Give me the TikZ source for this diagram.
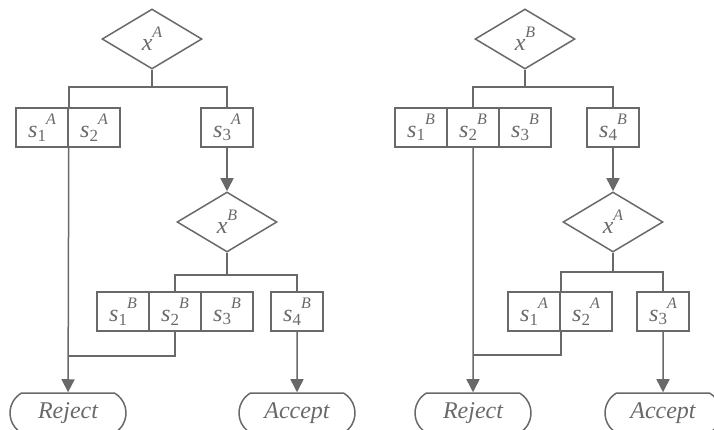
\documentclass[tikz,border=0pt]{standalone}
\usepackage{fontspec}
\setmainfont{Liberation Serif}
\usetikzlibrary{shapes.geometric,shapes.misc,arrows.meta}
\definecolor{ln}{RGB}{105,105,105}
\newcommand{\sv}[2]{\textit{s}\raisebox{-.3ex}{\fontsize{17}{17}\selectfont #1}\raisebox{1.2ex}{\fontsize{16}{16}\selectfont\textit{#2}}}
\newcommand{\xv}[1]{\textit{x}\raisebox{1.2ex}{\fontsize{16}{16}\selectfont\textit{#1}}}
\tikzset{dm/.style = {diamond, draw, minimum width=100pt, minimum height=60pt, inner sep=0pt},
         bx/.style = {rectangle, draw, minimum width=52pt, minimum height=39pt, inner sep=0pt},
         tm/.style = {rounded rectangle, rounded rectangle arc length=120, draw, minimum width=116pt, minimum height=40pt, inner sep=0pt, font=\fontsize{24}{28}\selectfont\itshape}}

\begin{document}
\begin{tikzpicture}[x=1pt, y=-1pt, color=ln, line width=1.5pt, >={Triangle[length=13pt,width=13pt]},
    font=\fontsize{24}{28}\selectfont]
    \useasboundingbox (0,0) rectangle (714,430);
    % left tree
    \node[dm] (xa) at (152,39) {\xv{A}};
    \node[bx] (a1) at (42,127.5) {\sv{1}{A}}; \node[bx] (a2) at (94,127.5) {\sv{2}{A}};
    \node[bx] (a3) at (227,127.5) {\sv{3}{A}};
    \node[dm] (xb) at (227,222) {\xv{B}};
    \node[bx] (b1) at (123,311.5) {\sv{1}{B}}; \node[bx] (b2) at (175,311.5) {\sv{2}{B}};
    \node[bx] (b3) at (227,311.5) {\sv{3}{B}}; \node[bx] (b4) at (297,311.5) {\sv{4}{B}};
    \node[tm] (rl) at (68,413) {Reject};
    \node[tm] (al) at (297,413) {Accept};
    \coordinate (ja) at (152,87); \coordinate (jb) at (227,275); \coordinate (ka) at (68,356);
    \draw (xa) -- (ja);
    \draw (ja) -| (a1.north east);
    \draw (ja) -| (a3);
    \draw[->] (a1.south east) -- (rl);
    \draw[->] (a3) -- (xb);
    \draw (xb) -- (jb);
    \draw (jb) -| (b2);
    \draw (jb) -| (b4);
    \draw (b2) |- (ka);
    \draw[->] (b4) -- (al);
    % right tree
    \node[dm] (yb) at (525,39) {\xv{B}};
    \node[bx] (c1) at (421,127.5) {\sv{1}{B}}; \node[bx] (c2) at (473,127.5) {\sv{2}{B}};
    \node[bx] (c3) at (525,127.5) {\sv{3}{B}}; \node[bx] (c4) at (613,127.5) {\sv{4}{B}};
    \node[dm] (ya) at (613,222) {\xv{A}};
    \node[bx] (d1) at (534,311.5) {\sv{1}{A}}; \node[bx] (d2) at (586,311.5) {\sv{2}{A}};
    \node[bx] (d3) at (663,311.5) {\sv{3}{A}};
    \node[tm] (rr) at (473,413) {Reject};
    \node[tm] (ar) at (663,413) {Accept};
    \coordinate (jc) at (525,87); \coordinate (jd) at (613,272); \coordinate (kb) at (473,355);
    \draw (yb) -- (jc);
    \draw (jc) -| (c2);
    \draw (jc) -| (c4);
    \draw[->] (c2) -- (rr);
    \draw[->] (c4) -- (ya);
    \draw (ya) -- (jd);
    \draw (jd) -| (d1.north east);
    \draw (jd) -| (d3);
    \draw (d1.south east) |- (kb);
    \draw[->] (d3) -- (ar);
\end{tikzpicture}
\end{document}
